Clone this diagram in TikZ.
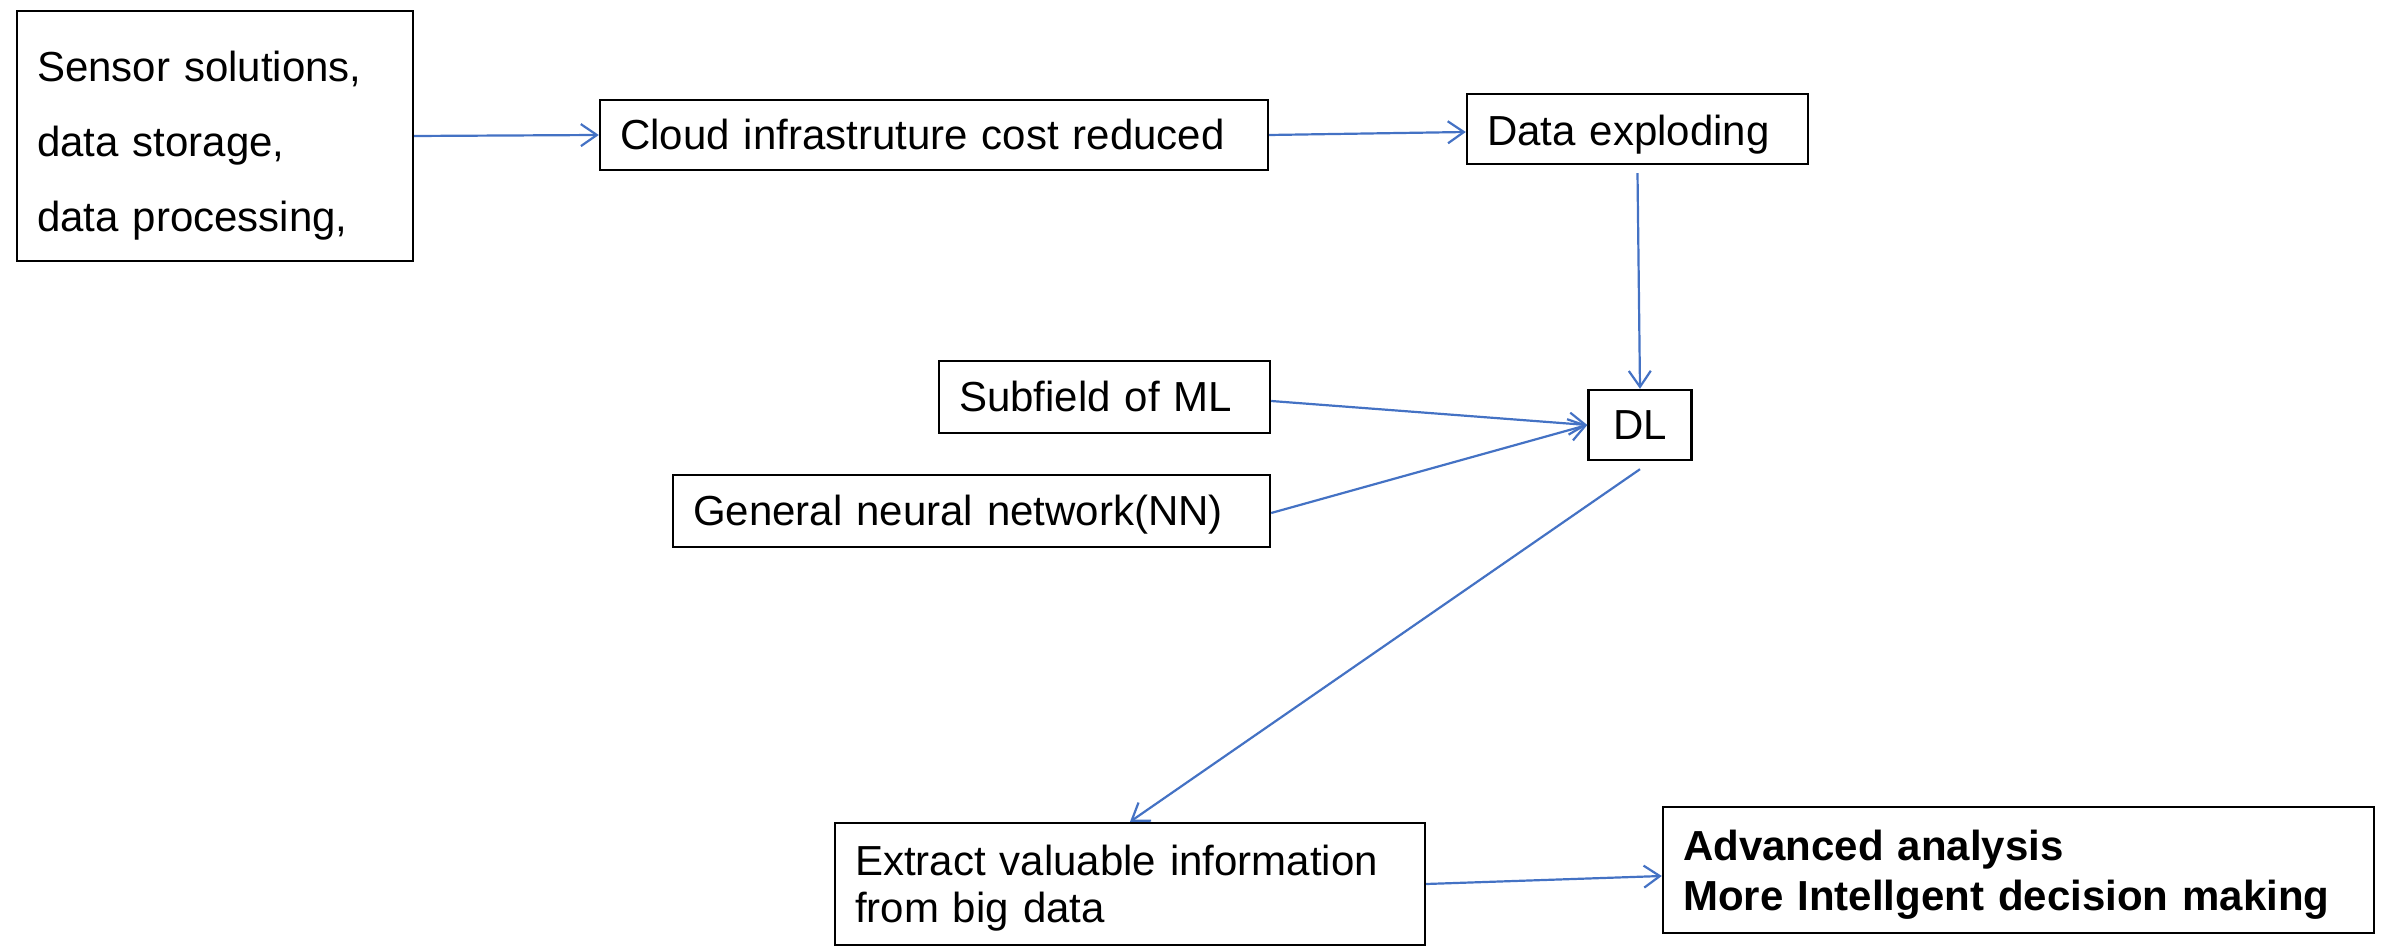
\documentclass[tikz,border=0pt]{standalone}
\usepackage{fontspec}
\setmainfont{Liberation Sans}
\usetikzlibrary{arrows.meta}
\definecolor{arrowblue}{HTML}{4472C4}
\tikzset{
  box/.style={draw=black, line width=1.2pt, inner xsep=10pt, inner ysep=0pt, align=left,
    text height=15pt, text depth=0pt, font=\fontsize{21}{25}\selectfont},
  arr/.style={draw=arrowblue, line width=1.1pt, -{Straight Barb[length=8pt,width=11pt,line width=1.1pt]}}
}
\begin{document}
\begin{tikzpicture}[x=0.5pt, y=-0.5pt]
\useasboundingbox (0,0) rectangle (2382,951);
\node[box, text width=178pt, minimum height=125pt, text height=21pt, text depth=75pt, font=\fontsize{21}{37.5}\selectfont] (src) at (215,136)
  {Sensor solutions,\\data storage,\\data processing,};
\node[box, text width=314pt, minimum height=35pt] (cloud) at (934,135) {Cloud infrastruture cost reduced};
\node[box, text width=150.5pt, minimum height=35pt, text height=17pt] (dex) at (1637.5,129) {Data exploding};
\node[box, text width=51.5pt, inner xsep=0pt, align=center, minimum height=35pt] (dl) at (1640,425) {DL};
\node[box, text width=145.5pt, minimum height=36pt] (sub) at (1104.5,397) {Subfield of ML};
\node[box, text width=278.5pt, minimum height=36pt] (gnn) at (971.5,511) {General neural network(NN)};
\node[box, text width=275pt, minimum height=61pt, text depth=23.5pt, font=\fontsize{21}{23.5}\selectfont] (ext) at (1130,884)
  {Extract valuable information\\from big data};
\node[box, text width=335.5pt, minimum height=63pt, text depth=25pt, font=\fontsize{21}{25}\selectfont\bfseries] (adv) at (2018.5,870)
  {Advanced analysis\\More Intellgent decision making};
\draw[arr] (src.east) -- (cloud.west);
\draw[arr] (cloud.east) -- ([yshift=-1.5pt]dex.west);
\draw[arr] ([yshift=-4pt]dex.south) -- (dl.north);
\draw[arr] ([yshift=-2pt]sub.east) -- (dl.west);
\draw[arr] ([yshift=-1pt]gnn.east) -- (dl.west);
\draw[arr] ([yshift=-4pt]dl.south) -- (ext.north);
\draw[arr] (ext.east) -- ([yshift=-3pt]adv.west);
\end{tikzpicture}
\end{document}
